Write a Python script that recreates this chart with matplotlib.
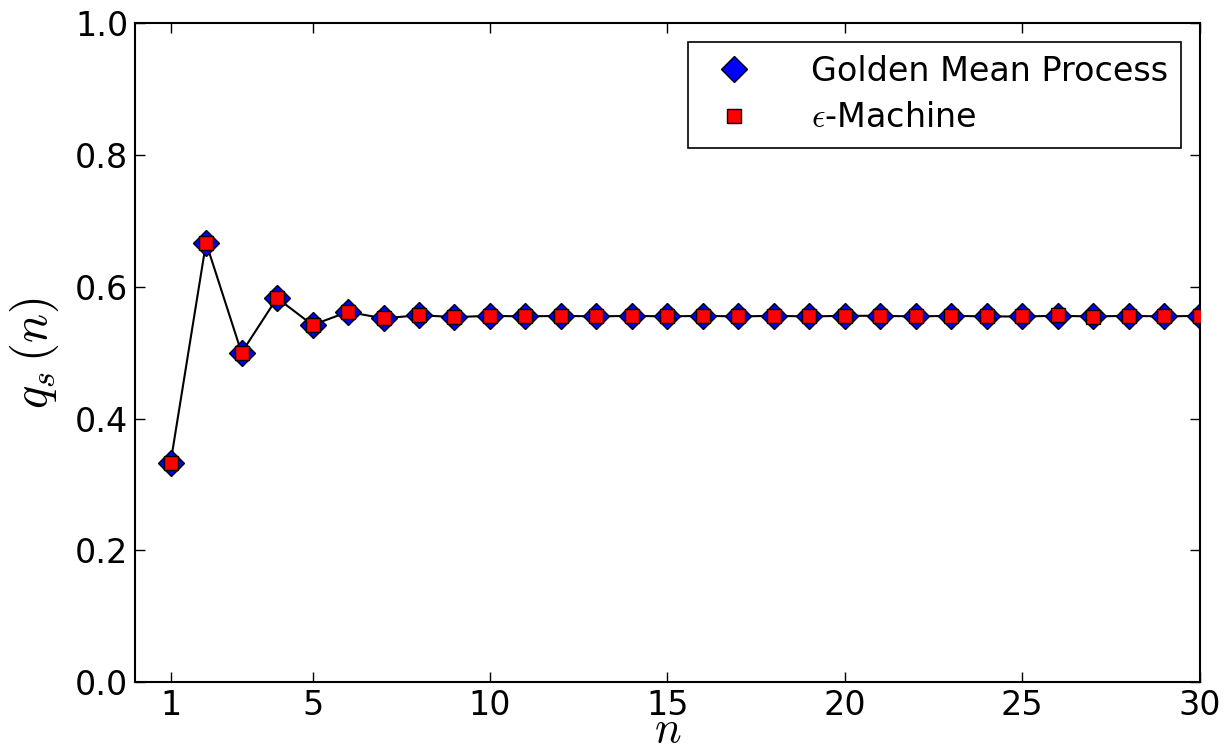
import numpy as np
import matplotlib
matplotlib.use('Agg')
import matplotlib.pyplot as plt

plt.rcParams['mathtext.fontset'] = 'cm'
plt.rcParams['font.family'] = 'DejaVu Sans'

# values
n = list(range(1, 31))
q_process = [0.333, 0.667, 0.500, 0.583, 0.542, 0.562, 0.552, 0.557, 0.554, 0.556,
             0.555, 0.556, 0.555, 0.556, 0.555, 0.556, 0.555, 0.556, 0.555, 0.556,
             0.556, 0.555, 0.556, 0.555, 0.555, 0.556, 0.555, 0.556, 0.555, 0.556]
q_machine = [0.333, 0.667, 0.500, 0.583, 0.542, 0.562, 0.552, 0.557, 0.554, 0.556,
             0.555, 0.556, 0.555, 0.556, 0.555, 0.556, 0.555, 0.556, 0.555, 0.556,
             0.556, 0.555, 0.556, 0.555, 0.555, 0.557, 0.554, 0.556, 0.555, 0.556]
xticks = [1, 5, 10, 15, 20, 25, 30]
yticks = [0.0, 0.2, 0.4, 0.6, 0.8, 1.0]

fig = plt.figure(figsize=(12.28, 7.52), dpi=100)
ax = fig.add_axes([0.110, 0.093, 0.867, 0.876])

ax.plot(n, q_process, color='black', lw=1.5, zorder=1)
ax.plot(n, q_process, 'D', ms=13.5, mfc='blue', mec='black', mew=1,
        label='Golden Mean Process', zorder=2)
ax.plot(n, q_machine, 's', ms=10, mfc='red', mec='black', mew=1,
        label=r'$\epsilon$-Machine', zorder=3)

ax.set_xlim(0, 30)
ax.set_ylim(0, 1)
ax.set_xticks(xticks)
ax.set_yticks(yticks)
ax.set_xticklabels([str(t) for t in xticks])
ax.set_yticklabels(['%.1f' % t for t in yticks])
ax.tick_params(direction='in', top=True, right=True, length=7, width=1,
               labelsize=24, pad=5)
for s in ax.spines.values():
    s.set_linewidth(1.5)

ax.set_xlabel(r'$n$', fontsize=32, labelpad=-10)
ax.set_ylabel(r'$q_s\,(n)$', fontsize=35, labelpad=10)

leg = ax.legend(loc='upper right', numpoints=1, fontsize=24, fancybox=False,
                framealpha=1, edgecolor='black', borderaxespad=0.55,
                handletextpad=1.3, borderpad=0.4, labelspacing=0.4)
leg.get_frame().set_linewidth(1.2)

fig.savefig('out.png', dpi=100)
